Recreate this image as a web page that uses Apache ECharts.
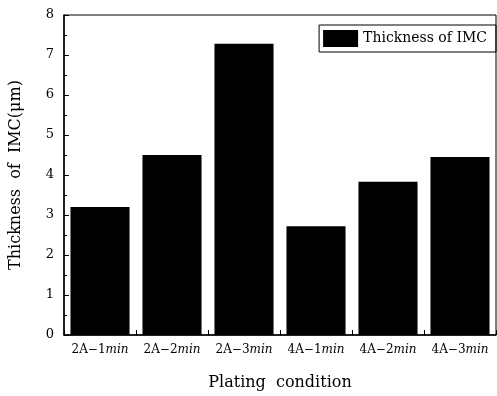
<!DOCTYPE html>
<html>
<head>
<meta charset="utf-8">
<script src="https://cdn.jsdelivr.net/npm/echarts@6/dist/echarts.min.js"></script>
<style>
    html, body { margin: 0; padding: 0; background: #fff; }
    #chart { width: 497px; height: 396px; }
</style>
</head>
<body>
<div id="chart"></div>
<script>
// plating conditions and measured IMC thickness (um)
const categories = ['2A-1min', '2A-2min', '2A-3min', '4A-1min', '4A-2min', '4A-3min'];
const thickness = [3.2, 4.5, 7.28, 2.72, 3.83, 4.45];
const yTicks = [0, 1, 2, 3, 4, 5, 6, 7, 8];

const serif = '"DejaVu Serif", "Liberation Serif", serif';
const chart = echarts.init(document.getElementById('chart'));

chart.setOption({
    animation: false,
    backgroundColor: '#fff',
    grid: {
        left: 64,
        right: 1,
        top: 15,
        bottom: 61,
        show: true,
        borderColor: '#000',
        borderWidth: 1
    },
    legend: {
        data: ['Thickness of IMC'],
        right: 1,
        top: 25,
        orient: 'vertical',
        icon: 'rect',
        itemWidth: 35,
        itemHeight: 17,
        itemGap: 0,
        padding: [5, 9, 5, 4],
        borderColor: '#000',
        borderWidth: 1,
        textStyle: { fontFamily: serif, fontSize: 14, color: '#000' }
    },
    xAxis: {
        type: 'category',
        data: categories,
        name: 'Plating  condition',
        nameLocation: 'middle',
        nameGap: 40,
        nameTextStyle: { fontFamily: serif, fontSize: 16, color: '#000' },
        axisLine: { lineStyle: { color: '#000', width: 1.5 } },
        axisTick: { show: true, inside: true, length: 5, lineStyle: { color: '#000' } },
        axisLabel: {
            interval: 0,
            margin: 9,
            formatter: v => {
                const parts = v.split('-');
                return parts[0] + '−' + parts[1].replace('min', '') + '{i|min}';
            },
            fontFamily: serif,
            fontSize: 12,
            color: '#000',
            rich: {
                i: { fontFamily: serif, fontSize: 12, fontStyle: 'italic', color: '#000' }
            }
        }
    },
    yAxis: {
        type: 'value',
        min: yTicks[0],
        max: yTicks[yTicks.length - 1],
        interval: 1,
        name: 'Thickness  of  IMC(μm)',
        nameLocation: 'middle',
        nameGap: 40,
        nameTextStyle: { fontFamily: serif, fontSize: 16, color: '#000' },
        splitLine: { show: false },
        axisLine: { show: true, lineStyle: { color: '#000', width: 1.5 } },
        axisTick: { show: true, inside: true, length: 5, lineStyle: { color: '#000' } },
        minorTick: { show: true, splitNumber: 2, length: 3, lineStyle: { color: '#000' } },
        axisLabel: { fontFamily: serif, fontSize: 13, color: '#000', margin: 10 }
    },
    series: [
        {
            name: 'Thickness of IMC',
            type: 'bar',
            data: thickness,
            barCategoryGap: '18%',
            itemStyle: { color: '#000' }
        }
    ]
});
</script>
</body>
</html>
